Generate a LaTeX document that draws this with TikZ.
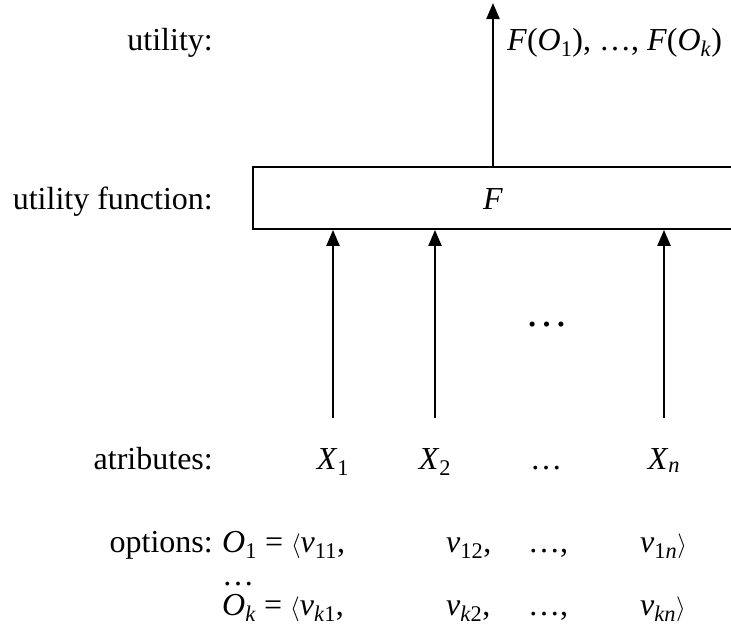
\documentclass[tikz,border=0pt]{standalone}
\usepackage{fontspec}
\setmainfont{Liberation Serif}
\usetikzlibrary{arrows.meta}
\newcommand{\sv}[2]{\textit{#1}\textsubscript{#2}}

\begin{document}
\begin{tikzpicture}[x=1pt,y=-1pt,
  lbl/.style={font=\fontsize{32}{38}\selectfont,inner sep=0pt},
  flow/.style={-{Triangle[length=16pt,width=13pt]},line width=2.2pt}]
\useasboundingbox (0,0) rectangle (731,627);
% row labels
\node[lbl,anchor=base east] (lutil) at (213,50) {utility:};
\node[lbl,anchor=base east] (lfun) at (213,209) {utility function:};
\node[lbl,anchor=base east] (lattr) at (213,469) {atributes:};
\node[lbl,anchor=base east] (lopt) at (213,552) {options:};
% utility function box
\node[draw,line width=1.8pt,minimum width=482pt,minimum height=62pt,
  anchor=west] (fbox) at (252,198) {};
\node[lbl,anchor=base] (fname) at (493,209) {\textit{F}};
\coordinate (top) at (493,3);
\node[lbl,anchor=base west] (fout) at (507,50)
  {\textit{F}(\sv{O}{1}), \dots, \textit{F}(\sv{O}{\textit{k}})};
% attributes
\node[lbl,anchor=base] (x1) at (333,469) {\sv{X}{1}};
\node[lbl,anchor=base] (x2) at (435,469) {\sv{X}{2}};
\node[lbl,anchor=base] (xd) at (546,469) {\dots};
\node[lbl,anchor=base] (xn) at (664,469) {\sv{X}{\textit{n}}};
\node[lbl,font=\fontsize{43}{48}\selectfont,anchor=base] (mdots) at (547,326) {\dots};
% options
\node[lbl,anchor=base west] (o1) at (222,552) {\sv{O}{1} = $\langle$\sv{v}{11},};
\node[lbl,anchor=base west] (o12) at (446,552) {\sv{v}{12},};
\node[lbl,anchor=base west] (o1d) at (528,552) {\dots,};
\node[lbl,anchor=base west] (o1n) at (640,552) {\sv{v}{1\textit{n}}$\rangle$};
\node[lbl,anchor=base west] (od) at (222,585) {\dots};
\node[lbl,anchor=base west] (ok) at (222,615) {\sv{O}{\textit{k}} = $\langle$\sv{v}{\textit{k}1},};
\node[lbl,anchor=base west] (ok2) at (446,615) {\sv{v}{\textit{k}2},};
\node[lbl,anchor=base west] (okd) at (528,615) {\dots,};
\node[lbl,anchor=base west] (okn) at (640,615) {\sv{v}{\textit{kn}}$\rangle$};
% arrows
\draw[flow] (fbox.north -| top) -- (top);
\draw[flow,shorten <=30pt] (x1.north) -- (x1.north |- fbox.south);
\draw[flow,shorten <=30pt] (x2.north) -- (x2.north |- fbox.south);
\draw[flow,shorten <=30pt] (xn.north) -- (xn.north |- fbox.south);
\end{tikzpicture}
\end{document}
